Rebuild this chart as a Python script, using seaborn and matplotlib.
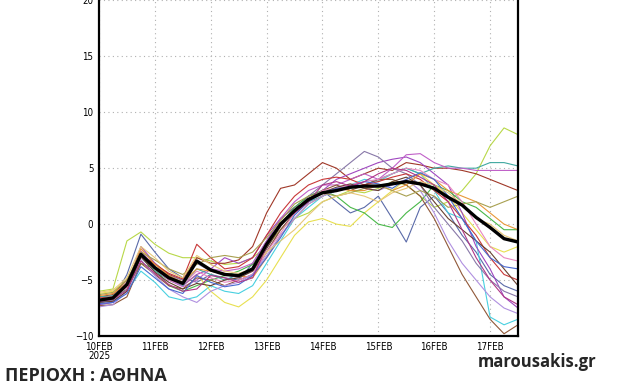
import matplotlib
matplotlib.use("Agg")
import matplotlib.pyplot as plt
import matplotlib.ticker as mticker
import numpy as np
import pandas as pd
import seaborn as sns

# time axis: 6-hourly from 10FEB00 to 17FEB12 (in days)
times = [10.0, 10.25, 10.5, 10.75, 11.0, 11.25, 11.5, 11.75, 12.0, 12.25, 12.5, 12.75,
         13.0, 13.25, 13.5, 13.75, 14.0, 14.25, 14.5, 14.75, 15.0, 15.25, 15.5, 15.75,
         16.0, 16.25, 16.5, 16.75, 17.0, 17.25, 17.5]

tick_pos = [10, 11, 12, 13, 14, 15, 16, 17]
tick_labels = ["10FEB\n2025", "11FEB", "12FEB", "13FEB", "14FEB", "15FEB", "16FEB", "17FEB"]
y_ticks = [-10, -5, 0, 5, 10, 15, 20]

mean_vals = [-6.8, -6.6, -5.4, -2.7, -3.9, -4.8, -5.3, -3.3, -4.1, -4.5, -4.6, -4.0,
             -1.8, 0.0, 1.2, 2.2, 2.8, 3.0, 3.3, 3.4, 3.4, 3.6, 3.8, 3.6,
             3.2, 2.4, 1.7, 0.6, -0.3, -1.3, -1.6]

m_a = [-6.0, -5.8, -1.5, -0.7, -1.8, -2.6, -3.0, -3.0, -3.3, -3.6, -3.5, -3.0, -2.0, -0.5, 0.5, 1.0, 2.0, 2.5, 3.0, 2.8, 3.2, 3.8, 3.5, 2.5, 1.5, 2.0, 3.0, 4.5, 7.0, 8.6, 8.0]
m_b = [-7.0, -6.8, -4.5, -0.9, -2.5, -4.0, -4.8, -5.2, -4.5, -4.8, -5.0, -3.5, -1.5, 0.5, 1.5, 2.5, 3.0, 2.0, 1.0, 1.5, 2.5, 0.5, -1.6, 1.5, 2.5, 1.0, -1.0, -2.5, -4.5, -5.5, -6.0]
m_c = [-7.2, -7.0, -6.0, -4.2, -5.2, -6.5, -6.8, -6.5, -5.5, -6.0, -6.2, -5.5, -3.5, -1.5, 0.5, 1.5, 2.5, 3.0, 3.5, 4.0, 3.8, 4.5, 5.0, 4.5, 3.0, 1.0, 0.5, -1.5, -8.3, -9.0, -8.5]
m_d = [-6.2, -6.0, -5.0, -3.0, -4.0, -4.8, -5.5, -4.5, -6.0, -7.0, -7.4, -6.5, -5.0, -3.0, -1.0, 0.2, 0.5, 0.0, -0.2, 1.0, 2.0, 3.0, 4.0, 4.5, 3.5, 2.5, 1.0, -0.5, -2.0, -2.5, -2.0]
m_e = [-6.5, -6.3, -5.0, -2.8, -3.5, -4.5, -5.0, -3.0, -3.5, -3.5, -3.2, -2.0, 1.0, 3.2, 3.5, 4.5, 5.5, 5.0, 4.0, 4.5, 5.0, 4.8, 5.5, 5.3, 5.0, 5.0, 4.8, 4.5, 4.0, 3.5, 3.0]
m_f = [-7.2, -7.0, -5.5, -2.0, -3.5, -4.8, -5.5, -4.5, -4.0, -3.0, -3.5, -3.0, -1.0, 0.5, 1.5, 2.0, 3.0, 4.0, 4.5, 5.0, 5.5, 5.8, 6.0, 5.5, 4.5, 3.5, 1.0, -2.0, -4.0, -6.5, -7.5]
m_g = [-6.8, -6.6, -5.8, -3.5, -4.0, -5.5, -6.0, -5.5, -5.0, -4.6, -4.2, -3.6, -2.0, 0.0, 1.5, 2.5, 3.0, 2.5, 1.5, 1.0, 0.0, -0.3, 1.0, 2.0, 3.5, 3.0, 2.0, 1.5, 0.5, -0.5, -0.5]
m_h = [-6.5, -6.4, -5.5, -3.0, -4.2, -5.0, -5.5, -4.0, -4.5, -5.0, -4.5, -4.0, -2.0, 0.0, 1.0, 2.0, 2.5, 3.0, 3.2, 3.5, 4.0, 4.5, 5.0, 4.5, 5.0, 5.2, 5.0, 5.0, 5.5, 5.5, 5.2]
m_i = [-6.9, -6.7, -5.2, -2.4, -3.8, -5.0, -5.6, -5.0, -4.0, -4.2, -4.0, -3.5, -1.5, 0.5, 2.0, 3.0, 3.5, 3.5, 4.0, 4.5, 4.0, 5.0, 6.2, 6.3, 5.5, 5.0, 5.0, 4.8, 4.8, 4.8, 4.8]
m_j = [-7.0, -6.8, -5.6, -2.6, -3.8, -4.6, -5.0, -3.5, -4.2, -4.5, -4.8, -4.2, -2.5, -0.5, 1.0, 2.5, 3.5, 4.5, 5.5, 6.5, 6.0, 5.0, 4.5, 3.5, 1.5, 0.0, -1.5, -3.5, -5.0, -6.0, -6.5]
m_k = [-7.3, -7.2, -6.5, -3.5, -4.5, -5.5, -5.8, -4.8, -5.0, -5.5, -5.0, -4.5, -2.5, -0.5, 1.0, 2.0, 3.0, 3.5, 3.0, 3.5, 4.0, 4.0, 3.5, 2.5, 0.5, -2.0, -4.5, -6.5, -8.5, -9.8, -9.0]
m_l = [-6.6, -6.5, -5.6, -2.8, -3.6, -4.4, -4.9, -1.8, -3.0, -4.0, -3.8, -3.0, -1.0, 1.0, 2.5, 3.5, 4.0, 4.2, 4.0, 3.5, 3.8, 4.2, 4.5, 4.0, 3.0, 2.0, 0.5, -1.0, -3.0, -4.5, -5.0]
m_m = [-6.4, -6.2, -5.3, -2.2, -3.6, -4.6, -5.2, -4.0, -4.2, -4.4, -4.6, -4.8, -3.0, -1.0, 0.5, 1.8, 2.5, 3.2, 3.0, 3.0, 3.5, 3.0, 3.5, 4.5, 4.0, 3.0, 2.5, 2.0, 1.0, 0.0, -0.5]
m_n = [-6.7, -6.5, -5.7, -3.0, -4.0, -5.0, -5.4, -4.2, -4.8, -5.2, -5.0, -4.5, -2.5, -0.8, 1.0, 2.2, 3.0, 3.2, 3.5, 3.8, 4.0, 4.5, 5.0, 4.8, 4.0, 3.5, 2.0, 0.0, -2.0, -3.0, -3.3]
m_o = [-7.4, -7.2, -6.0, -3.2, -4.6, -5.8, -6.5, -7.0, -6.0, -5.5, -5.2, -4.5, -2.8, -1.0, 0.5, 1.8, 2.5, 3.0, 3.5, 3.2, 3.0, 3.5, 4.0, 3.0, 1.0, -1.5, -3.5, -5.0, -6.5, -7.5, -8.0]
m_p = [-6.3, -6.1, -5.0, -2.5, -3.2, -4.0, -4.5, -3.6, -3.0, -2.8, -3.0, -2.5, -1.2, 0.3, 1.8, 2.5, 2.8, 2.5, 2.8, 3.2, 3.5, 3.0, 2.5, 3.0, 2.5, 1.5, 1.8, 2.0, 1.5, 2.0, 2.5]
m_q = [-7.0, -6.9, -6.0, -2.9, -4.3, -5.2, -5.8, -5.3, -5.5, -5.0, -4.8, -4.2, -2.2, -0.2, 1.3, 2.3, 2.8, 3.3, 3.6, 3.2, 3.0, 3.8, 4.2, 3.5, 2.0, 0.5, -0.5, -1.5, -2.5, -4.0, -5.5]
m_r = [-7.1, -7.0, -6.2, -3.8, -4.8, -5.8, -6.2, -4.6, -5.2, -5.6, -5.4, -4.6, -3.0, -1.2, 0.8, 2.0, 2.8, 3.2, 3.3, 3.8, 3.6, 3.2, 4.0, 4.6, 4.0, 2.5, 0.5, -1.5, -3.0, -3.8, -4.0]
m_s = [-6.1, -5.9, -4.8, -2.0, -3.0, -4.2, -4.8, -2.8, -3.6, -4.2, -4.4, -4.0, -2.5, -1.5, -0.5, 0.8, 2.0, 2.5, 2.8, 2.5, 2.0, 2.8, 3.2, 3.8, 3.5, 2.8, 1.8, 0.5, 0.0, -1.0, -1.5]
m_t = [-6.9, -6.7, -5.9, -3.3, -4.4, -5.4, -6.0, -5.8, -4.6, -4.8, -5.2, -4.8, -2.0, 0.0, 1.0, 2.0, 3.5, 3.8, 3.4, 3.8, 4.5, 5.0, 4.8, 4.2, 3.5, 2.0, -0.5, -3.0, -5.0, -6.5, -7.2]

members = {
    "a": m_a, "b": m_b, "c": m_c, "d": m_d, "e": m_e, "f": m_f, "g": m_g,
    "h": m_h, "i": m_i, "j": m_j, "k": m_k, "l": m_l, "m": m_m, "n": m_n,
    "o": m_o, "p": m_p, "q": m_q, "r": m_r, "s": m_s, "t": m_t,
}
member_colors = {
    "a": "#b8d848", "b": "#5a6aa8", "c": "#48d0e0", "d": "#e8e050", "e": "#a03828",
    "f": "#a048c0", "g": "#48b848", "h": "#40a8a0", "i": "#c060c8", "j": "#8878a8",
    "k": "#905838", "l": "#c83838", "m": "#e89838", "n": "#e888c0", "o": "#b090e0",
    "p": "#a8a050", "q": "#684030", "r": "#4868d0", "s": "#e8c878", "t": "#b03888",
}

rows = []
for name, vals in members.items():
    for tt, v in zip(times, vals):
        rows.append({"member": name, "time": tt, "value": v})
df = pd.DataFrame(rows)
df_mean = pd.DataFrame({"time": times, "value": mean_vals})

sns.set_style("white")
plt.rcParams["font.family"] = ["DejaVu Sans"]

fig = plt.figure(figsize=(6.4, 3.84), dpi=100)
ax = fig.add_axes([99 / 640, 1 - 336 / 384, (518 - 99) / 640, 336 / 384 - 0.001])

sns.lineplot(data=df, x="time", y="value", hue="member", palette=member_colors,
             estimator=None, legend=False, linewidth=0.8, ax=ax)
sns.lineplot(data=df_mean, x="time", y="value", color="black", linewidth=2.4, ax=ax)

ax.set_xlim(10, 17.5)
ax.set_ylim(-10, 20)
ax.set_xticks(tick_pos)
ax.set_xticklabels(tick_labels)
ax.set_yticks(y_ticks)
ax.yaxis.set_minor_locator(mticker.MultipleLocator(1))
ax.xaxis.set_minor_locator(mticker.MultipleLocator(0.125))
ax.set_xlabel("")
ax.set_ylabel("")
ax.grid(True, which="major", color="#b0b0b0", linestyle=(0, (1, 3)), linewidth=0.8)
for sp in ax.spines.values():
    sp.set_color("black")
    sp.set_linewidth(1.6)
ax.spines["top"].set_visible(False)
ax.tick_params(axis="both", which="major", direction="out", length=3, width=1,
               labelsize=7, pad=1, colors="black")
ax.tick_params(axis="both", which="minor", direction="out", length=1.5, width=0.8)
for lab in ax.get_xticklabels() + ax.get_yticklabels():
    lab.set_fontfamily(["Liberation Sans Narrow", "DejaVu Sans"])
    lab.set_fontstretch("condensed")
    lab.set_linespacing(0.95)
ax.set_facecolor("white")

fig.text(5 / 640, 1 - 381 / 384, "ΠΕΡΙΟΧΗ : ΑΘΗΝΑ", fontsize=13, fontweight="bold",
         ha="left", va="baseline", family=["Open Sans", "DejaVu Sans"])
fig.text(537 / 640, 1 - 362 / 384, "marousakis.gr", fontsize=12, fontweight="bold",
         ha="center", va="center", family=["Open Sans", "DejaVu Sans"])

fig.savefig("out.png", dpi=100, facecolor="white")
